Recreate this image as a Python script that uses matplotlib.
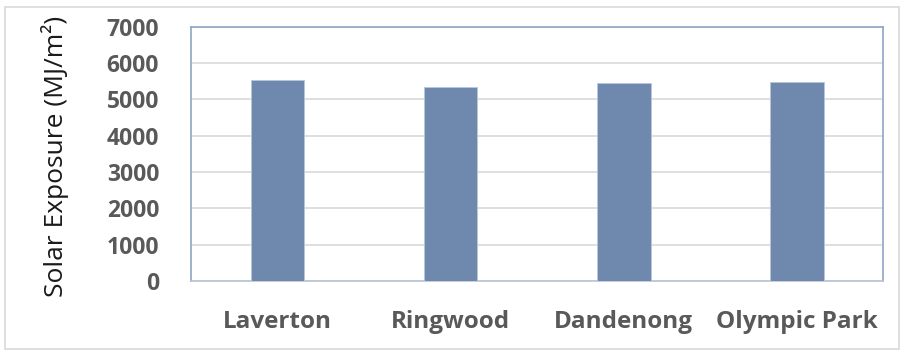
import matplotlib
matplotlib.use("Agg")
import matplotlib.pyplot as plt
from matplotlib.patches import Rectangle

# Annual solar exposure by weather station
stations = ["Laverton", "Ringwood", "Dandenong", "Olympic Park"]
exposure = [5525, 5333, 5460, 5490]
y_ticks = [0, 1000, 2000, 3000, 4000, 5000, 6000, 7000]

bar_color = "#6F89AE"
frame_color = "#8EA5C6"
grid_color = "#D9D9D9"
label_grey = "#595959"

fig = plt.figure(figsize=(9.04, 3.55), dpi=100)
ax = fig.add_axes([0.2113, 0.2085, 0.7658, 0.7163])

x = range(len(stations))
ax.bar(x, exposure, width=0.31, color=bar_color, edgecolor="#B9C7DA",
       linewidth=0.6, zorder=3)

ax.set_xlim(-0.5, len(stations) - 0.5)
ax.set_ylim(0, 7000)
ax.set_yticks(y_ticks)
ax.set_yticklabels([str(v) for v in y_ticks])
ax.set_xticks(list(x))
ax.set_xticklabels(stations)

ax.yaxis.grid(True, color=grid_color, linewidth=1.2, zorder=0)
ax.set_axisbelow(True)

for side in ["left", "right", "top"]:
    ax.spines[side].set_color(frame_color)
    ax.spines[side].set_linewidth(1.2)
ax.spines["bottom"].set_color("#B8C4D6")
ax.spines["bottom"].set_linewidth(1.2)

ax.tick_params(axis="both", length=0)
ax.tick_params(axis="y", pad=23)
ax.tick_params(axis="x", pad=21)
for lbl in ax.get_yticklabels():
    lbl.set_fontfamily("Open Sans")
    lbl.set_fontweight("bold")
    lbl.set_fontsize(16.5)
    lbl.set_color(label_grey)
for lbl in ax.get_xticklabels():
    lbl.set_fontfamily("Open Sans")
    lbl.set_fontweight("bold")
    lbl.set_fontsize(17.5)
    lbl.set_color(label_grey)

ax.set_ylabel("Solar Exposure (MJ/m²)", fontfamily="Open Sans", fontsize=19,
              color="#1A1A1A")
ax.yaxis.set_label_coords(-0.176, 0.49)

# light outer chart border
fig.patches.append(Rectangle((5 / 904, 6 / 355), 894 / 904, 342 / 355,
                             transform=fig.transFigure, fill=False,
                             edgecolor="#D9D9D9", linewidth=1.2))

fig.savefig("out.png", dpi=100, facecolor="white")
